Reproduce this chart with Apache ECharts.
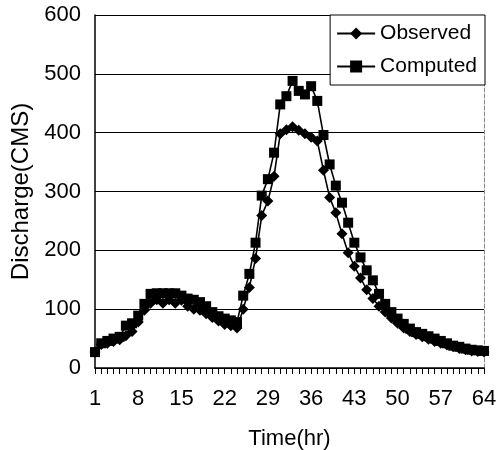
<!DOCTYPE html>
<html>
<head>
<meta charset="utf-8">
<script src="https://cdn.jsdelivr.net/npm/echarts@6/dist/echarts.min.js"></script>
<style>
  html, body { margin: 0; padding: 0; background: #fff; }
  #chart { width: 499px; height: 450px; }
</style>
</head>
<body>
<div id="chart"></div>
<script>
// 时间 (hr) 1..64
var hours = [];
for (var h = 1; h <= 64; h++) { hours.push(String(h)); }

var observed = [27, 40, 42, 45, 48, 55, 62, 78, 98, 110,
                116, 110, 116, 110, 115, 105, 100, 98, 92, 86,
                80, 74, 72, 68, 100, 137, 186, 259, 284, 326,
                398, 405, 410, 404, 398, 392, 386, 336, 290, 264,
                228, 196, 173, 153, 133, 118, 105, 95, 85, 76,
                68, 62, 57, 53, 49, 45, 42, 39, 36, 33,
                31, 29, 28, 27];

var computed = [27, 42, 46, 50, 53, 72, 76, 89, 109, 126,
                127, 127, 127, 127, 123, 118, 116, 112, 105, 95,
                88, 84, 81, 78, 123, 160, 213, 293, 321, 366,
                448, 462, 488, 471, 465, 479, 454, 396, 346, 310,
                281, 247, 213, 188, 166, 149, 126, 109, 95, 84,
                75, 67, 61, 58, 54, 50, 46, 42, 38, 36,
                33, 31, 30, 29];

var chart = echarts.init(document.getElementById('chart'));
chart.setOption({
    backgroundColor: '#fff',
    animation: false,
    textStyle: { fontFamily: 'Liberation Sans, Arial, sans-serif', color: '#000' },
    legend: {
        orient: 'vertical',
        right: 14,
        top: 15,
        padding: [8, 8, 8, 6],
        itemGap: 12,
        itemWidth: 38,
        itemHeight: 15,
        backgroundColor: '#fff',
        borderColor: '#000',
        borderWidth: 1,
        borderRadius: 0,
        textStyle: { fontSize: 21, color: '#000', fontFamily: 'Liberation Sans Narrow, Liberation Sans, sans-serif' },
        data: ['Observed', 'Computed']
    },
    grid: { left: 95, right: 15, top: 15, bottom: 82, outerBoundsMode: 'none' },
    xAxis: {
        type: 'category',
        boundaryGap: false,
        data: hours,
        name: 'Time(hr)',
        nameLocation: 'middle',
        nameGap: 60,
        nameTextStyle: { fontSize: 22, color: '#000', fontFamily: 'Liberation Sans Narrow, Liberation Sans, sans-serif' },
        axisLine: { lineStyle: { color: '#000', width: 1.5 } },
        axisTick: { interval: 0, length: 6, lineStyle: { color: '#000' } },
        axisLabel: {
            interval: 0,
            hideOverlap: false,
            formatter: function (v, idx) { return idx % 7 === 0 ? v : ''; },
            fontSize: 22, color: '#000', margin: 20,
            fontFamily: 'Liberation Sans Narrow, Liberation Sans, sans-serif'
        },
        splitLine: { show: false }
    },
    yAxis: [{
        type: 'value',
        min: 0,
        max: 600,
        interval: 100,
        name: 'Discharge(CMS)',
        nameLocation: 'middle',
        nameGap: 62,
        nameTextStyle: { fontSize: 24, color: '#000' },
        axisLine: { show: true, lineStyle: { color: '#000', width: 1.5 } },
        axisTick: { show: false },
        axisLabel: { fontSize: 22, color: '#000', margin: 14 },
        splitLine: { show: true, lineStyle: { color: '#000', width: 1.2 } }
    }, {
        // 右边框
        type: 'value',
        min: 0,
        max: 600,
        interval: 100,
        position: 'right',
        axisLine: { show: true, lineStyle: { color: '#888', type: 'dashed', width: 1 } },
        axisTick: { show: false },
        axisLabel: { show: false },
        splitLine: { show: false }
    }],
    series: [{
        name: 'Observed',
        type: 'line',
        data: observed,
        symbol: 'diamond',
        symbolSize: 11,
        showAllSymbol: true,
        itemStyle: { color: '#000' },
        lineStyle: { color: '#000', width: 1.6 }
    }, {
        name: 'Computed',
        type: 'line',
        data: computed,
        symbol: 'rect',
        symbolSize: 10,
        showAllSymbol: true,
        itemStyle: { color: '#000' },
        lineStyle: { color: '#000', width: 1.6 }
    }]
});
</script>
</body>
</html>
